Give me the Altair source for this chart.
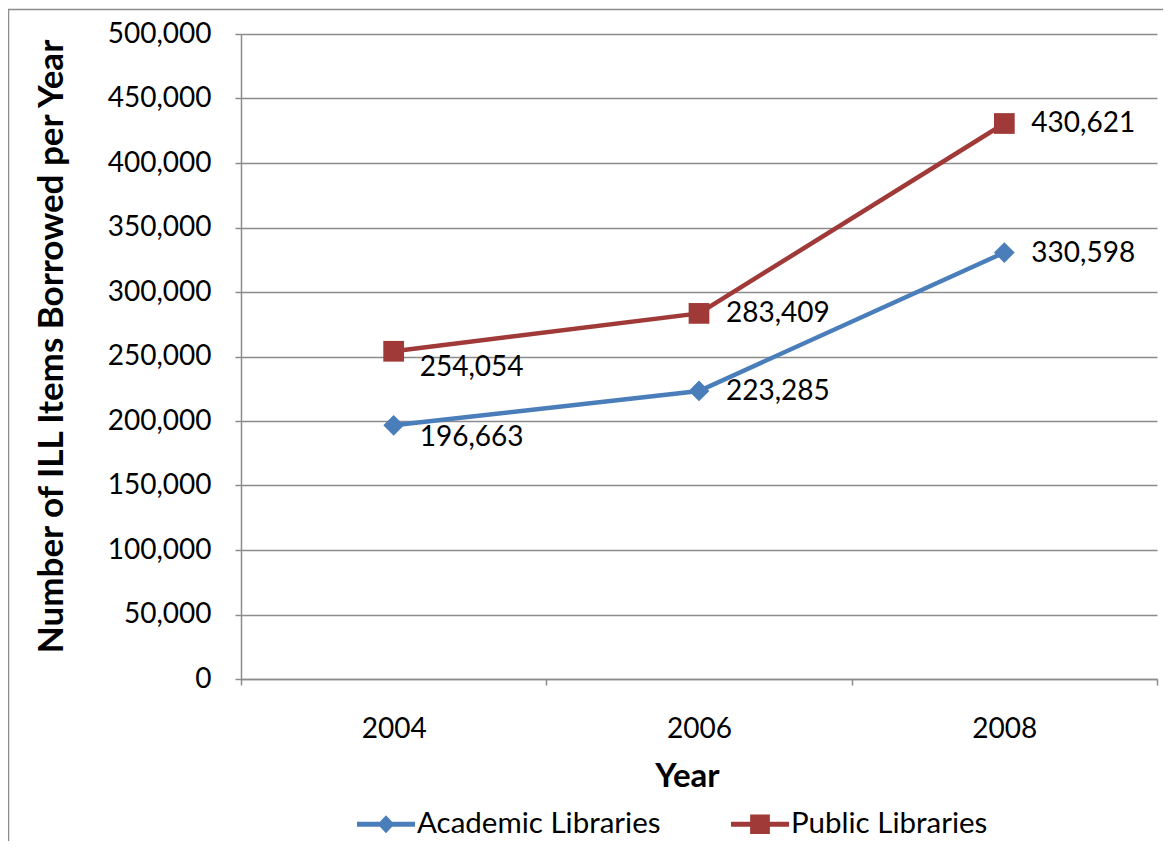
import altair as alt
import pandas as pd

# ---- data ----
years = ["2004", "2006", "2008"]
academic = [196663, 223285, 330598]
public = [254054, 283409, 430621]
series_names = ["Academic Libraries", "Public Libraries"]
y_ticks = [0, 50000, 100000, 150000, 200000, 250000, 300000, 350000, 400000, 450000, 500000]

rows = []
for name, vals in zip(series_names, [academic, public]):
    for yr, v in zip(years, vals):
        rows.append({"Year": yr, "value": v, "series": name})
df = pd.DataFrame(rows)

colors = ["#4A7EBB", "#A03A38"]
FONT = "Lato"
GRID = "#8C8C8C"


def cscale():
    return alt.Scale(domain=series_names, range=colors)


x_enc = alt.X(
    "Year:N",
    sort=years,
    scale=alt.Scale(type="band", paddingInner=0, paddingOuter=0),
    axis=alt.Axis(
        title="Year",
        tickBand="extent",
        labelAngle=0,
        labelFont=FONT,
        labelFontSize=28,
        labelColor="#000000",
        labelPadding=30,
        tickSize=6,
        tickColor=GRID,
        tickWidth=1.5,
        domainColor=GRID,
        domainWidth=1.5,
        grid=False,
        titleFont=FONT,
        titleFontSize=33,
        titleFontWeight="bold",
        titleColor="#000000",
        titleX=446,
        titleY=97,
        titleBaseline="middle",
    ),
)

y_enc = alt.Y(
    "value:Q",
    scale=alt.Scale(domain=[0, 500000], nice=False),
    axis=alt.Axis(
        title="Number of ILL Items Borrowed per Year",
        values=y_ticks,
        format=",d",
        labelFont=FONT,
        labelFontSize=28,
        labelColor="#000000",
        labelPadding=24,
        tickSize=6,
        tickColor=GRID,
        tickWidth=1.5,
        domainColor=GRID,
        domainWidth=1.5,
        grid=True,
        gridColor=GRID,
        gridWidth=1.5,
        titleFont=FONT,
        titleFontSize=35,
        titleFontWeight="bold",
        titleColor="#000000",
        titleAngle=-90,
        titleX=-190,
        titleY=312,
        titleBaseline="middle",
        titleAlign="center",
    ),
)

base = alt.Chart(df)

border = alt.Chart(pd.DataFrame({"k": [0]})).mark_rect(
    fill="transparent", stroke=GRID, strokeWidth=1.5
).encode(
    x=alt.value(-232.5), x2=alt.value(1200), y=alt.value(-24.5), y2=alt.value(1000)
)

lines = base.mark_line(strokeWidth=4.5).encode(
    x=x_enc,
    y=y_enc,
    color=alt.Color("series:N", scale=cscale(), legend=None),
    detail="series:N",
)

points = base.mark_point(filled=True, opacity=1, size=430).encode(
    x=x_enc,
    y=y_enc,
    color=alt.Color("series:N", scale=cscale(), legend=None),
    shape=alt.Shape(
        "series:N",
        scale=alt.Scale(domain=series_names, range=["diamond", "square"]),
        legend=None,
    ),
)

line_bar = "M-1,-0.085L1,-0.085L1,0.085L-1,0.085Z"
legend_paths = [
    line_bar + " M0,-0.31L0.29,0L0,0.31L-0.29,0Z",
    line_bar + " M-0.34,-0.34L0.34,-0.34L0.34,0.34L-0.34,0.34Z",
]

legend_def = alt.Legend(
    title=None,
    orient="none",
    legendX=116,
    legendY=761,
    direction="horizontal",
    columns=2,
    columnPadding=70,
    labelFont=FONT,
    labelFontSize=29.5,
    labelColor="#000000",
    labelOffset=2,
    labelLimit=500,
    symbolSize=3364,
    symbolOpacity=1,
    symbolStrokeWidth=0,
)

legend_layer = base.mark_point(filled=True, opacity=0, size=3364).encode(
    x=x_enc,
    y=y_enc,
    color=alt.Color("series:N", scale=cscale(), legend=legend_def),
    shape=alt.Shape(
        "series:N",
        scale=alt.Scale(domain=series_names, range=legend_paths),
        legend=legend_def,
    ),
)

text_style = dict(align="left", baseline="middle", font=FONT, fontSize=28, color="#000000")
text_enc = dict(x=x_enc, y=y_enc, text=alt.Text("value:Q", format=",d"))

labels_first_pub = base.transform_filter(
    (alt.datum.Year == years[0]) & (alt.datum.series == series_names[1])
).mark_text(dx=26, dy=17, **text_style).encode(**text_enc)

labels_first_acad = base.transform_filter(
    (alt.datum.Year == years[0]) & (alt.datum.series == series_names[0])
).mark_text(dx=26, dy=13, **text_style).encode(**text_enc)

labels_rest = base.transform_filter(alt.datum.Year != years[0]).mark_text(
    dx=27, dy=1, **text_style
).encode(**text_enc)

chart = (
    alt.layer(border, lines, points, legend_layer, labels_first_pub, labels_first_acad, labels_rest)
    .resolve_scale(shape="independent", color="independent")
    .properties(
        width=916,
        height=645,
        autosize=alt.AutoSizeParams(type="none"),
        padding={"left": 233, "top": 26, "right": 6, "bottom": 162},
        background="white",
    )
    .configure_view(stroke=None)
)

chart.save("out.html", embed_options={"renderer": "svg", "actions": False})
